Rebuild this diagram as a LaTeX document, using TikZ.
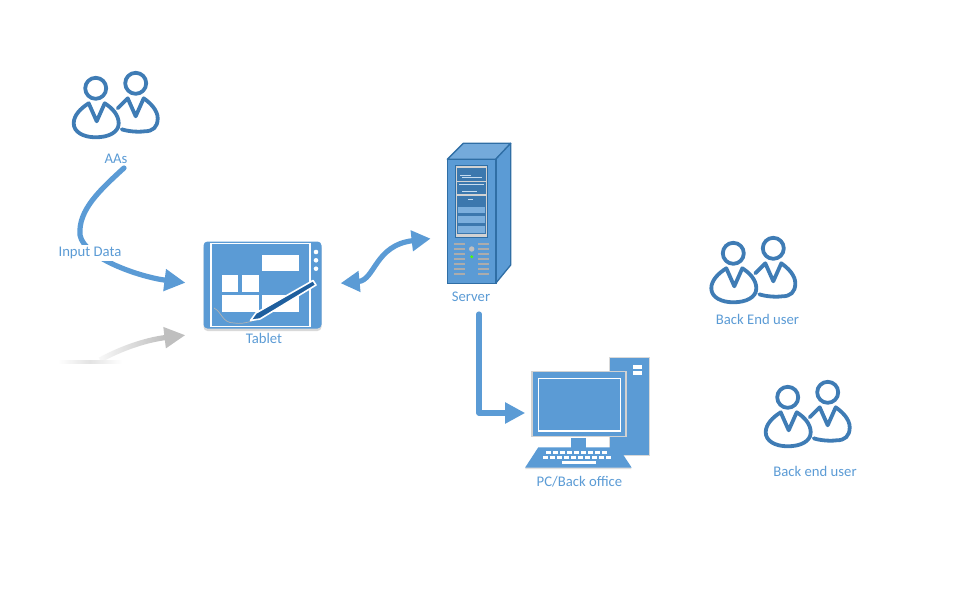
\documentclass[tikz,border=0pt]{standalone}
\usepackage{fontspec}
\setmainfont{Carlito}
\usetikzlibrary{arrows.meta,fadings,shadows}
\definecolor{officeblue}{HTML}{5B9BD5}
\definecolor{userblue}{HTML}{3F7CB5}
\definecolor{deepblue}{HTML}{2F6EA5}
\definecolor{rowblue}{HTML}{3C78AE}
\definecolor{penblue}{HTML}{1F5F9E}
\tikzfading[name=grayfade, left color=transparent!0, right color=transparent!100]
\tikzset{
  lbl/.style={text=officeblue,font=\fontsize{14.7}{16}\selectfont,inner sep=0pt},
  flow/.style={draw=officeblue,line width=5.2pt,line cap=round,line join=round},
  whitebox/.style={fill=white,draw=none},
  userpair/.pic={
    \draw[draw=userblue,line width=3.8pt,line join=round,line cap=round] (0,0) circle (10.5)
      (-7,15) .. controls (-15,20) and (-22,27) .. (-22,35) .. controls (-22,44) and (-12,49) .. (0,49)
        .. controls (13,49) and (23,44) .. (23,35) .. controls (23,27) and (17,20) .. (9,15) -- (1,33) -- cycle
      (40,-5) circle (10.5)
      (22,20) -- (32,10) -- (40,28) -- (48,10) .. controls (55,15) and (62,22) .. (62,30)
        .. controls (62,39) and (57,43) .. (49,43) .. controls (42,44) and (32,43) .. (26,41);
  }
}
\begin{document}
\begin{tikzpicture}[x=1pt,y=-1pt]
\useasboundingbox (0,0) rectangle (973,615);
% users
\pic at (95.7,88.3) {userpair};
\pic at (733.3,253.3) {userpair};
\pic at (787.7,397.3) {userpair};
\node[lbl] (aas) at (116,159) {AAs};
\node[lbl] (backend) at (757.5,319.5) {Back End user};
\node[lbl] (backend2) at (815,471) {Back end user};
% tablet
\node[fill=officeblue,rounded corners=4pt,minimum width=118pt,minimum height=87pt,inner sep=0pt,
  drop shadow={opacity=.3,shadow xshift=0pt,shadow yshift=-2.5pt}] (tablet) at (262.5,285) {};
\draw[white,line width=1.4pt] (211,243.5) rectangle (310,326.5);
\foreach \xa/\ya/\xb/\yb in {261.7/255/299/271,222/275/238.3/291.7,241.7/275/259/291.7,222/295/259/311.7,261.7/295/299/311.7}
  \fill[whitebox] (\xa,\ya) rectangle (\xb,\yb);
\foreach \ya in {252,260.3,268.7}
  \fill[white] (316,\ya) circle (2.3);
\draw[gray!60,line width=.7pt] (214,308) .. controls (222,312) and (222,323) .. (234,323) .. controls (240,324) and (246,323) .. (252,321);
\fill[penblue,draw=white,line width=1.6pt,line join=round] (250.5,320.5) -- (256,313) -- (313,280.5) -- (316,285) -- (260,319) -- cycle;
\node[lbl] (tabletlbl) at (264,338) {Tablet};
% server
\fill[officeblue!85!white,draw=deepblue,line width=1.3pt,line join=round] (447.3,159.3) -- (463.3,143.3) -- (510.7,143.3) -- (495.7,159.3) -- cycle;
\fill[officeblue,draw=deepblue,line width=1.3pt,line join=round] (495.7,159.3) -- (510.7,143.3) -- (510.7,265) -- (495.7,283.3) -- cycle;
\node[fill=officeblue,draw=deepblue,line width=1.6pt,minimum width=48.4pt,minimum height=124pt,inner sep=0pt] (server) at (471.5,221.3) {};
\fill[gray!35,draw=deepblue,line width=.6pt] (455,165.7) rectangle (487.3,237.3);
\foreach \ya/\yb in {167.7/181,182.3/194.3,195.7/205}
  \fill[rowblue] (457,\ya) rectangle (486,\yb);
\foreach \ya/\yb in {206/213.3,215/223.3,225/233.3}
  \fill[officeblue!80!white,draw=rowblue,line width=1.2pt] (457.5,\ya) rectangle (485.5,\yb);
\foreach \xa/\ya/\xb in {460/175/471,462/177/482,459/184.5/484,462/191.5/477,468/199.5/473}
  \draw[white!65!officeblue,line width=.6pt] (\xa,\ya) -- (\xb,\ya);
\foreach \i in {0,...,6} {
  \draw[gray!65,line width=1.8pt] (454,244.3+5*\i) -- (465,244.3+5*\i);
  \draw[gray!65,line width=1.8pt] (478,244.3+5*\i) -- (489,244.3+5*\i);
}
\fill[gray!50] (471.7,249) circle (2.7);
\fill[green!70!yellow] (471.7,256.7) circle (1.6);
\node[lbl] (serverlbl) at (471,297) {Server};
% pc
\fill[officeblue,draw=gray!30,line width=1pt] (609.3,357.7) rectangle (649,455.3);
\fill[whitebox] (633.3,365) rectangle (641.7,369.3);
\fill[whitebox] (633.3,370.7) rectangle (641.7,375);
\fill[officeblue] (571,438) rectangle (586,447.5);
\node[fill=officeblue,draw=gray!35,line width=1.6pt,minimum width=94pt,minimum height=65pt,inner sep=0pt] (pc) at (579,404) {};
\draw[white,line width=1.4pt] (538.3,378.3) rectangle (620.7,431);
\fill[officeblue,drop shadow={opacity=.25,shadow xshift=0pt,shadow yshift=-1.5pt}] (538.3,447.3) -- (618.3,447.3) -- (631.7,467.7) -- (525,467.7) -- cycle;
\foreach \i in {0,...,8}
  \fill[whitebox] (546+7*\i,451.3) rectangle (551+7*\i,454.3);
\foreach \i in {0,...,9}
  \fill[whitebox] (542.5+7*\i,456) rectangle (547.5+7*\i,459);
\fill[whitebox] (561.5,461) rectangle (596,464);
\node[lbl] (pclbl) at (579.5,481.5) {PC/Back office};
% connectors
\draw[flow,-{Triangle[length=21pt,width=21pt]},shorten >=18pt] ([shift={(8,4)}]aas.south)
  .. controls (100,190) and (78,210) .. (80,235)
  .. controls (84,258) and (140,277) .. (tablet.west);
\node[lbl,fill=white,inner xsep=1pt,inner ysep=2pt] (input) at (90,253) {Input Data};
\draw[flow,{Triangle[length=19pt,width=20pt]}-{Triangle[length=19pt,width=20pt]},shorten <=19pt,shorten >=16pt]
  (tablet.east) .. controls (375,280) and (375,245) .. ([yshift=-15.5pt]server.west);
\draw[flow,-{Triangle[length=20pt,width=20pt]},shorten >=6pt] ([shift={(8,12)}]serverlbl.south) |- ([yshift=-9pt]pc.west);
% grey reflection
\coordinate (grayfoot) at (100,360);
\draw[gray!50,line width=5.2pt,-{Triangle[length=21pt,width=20pt]},shorten >=18pt] (grayfoot)
  .. controls (120,349) and (145,340) .. ([yshift=-48pt]tablet.west);
\fill[white,path fading=grayfade] (92,322) rectangle (165,366);
\shade[left color=white,right color=white,middle color=gray!22] (58,360) rectangle (122,363);
\end{tikzpicture}
\end{document}
